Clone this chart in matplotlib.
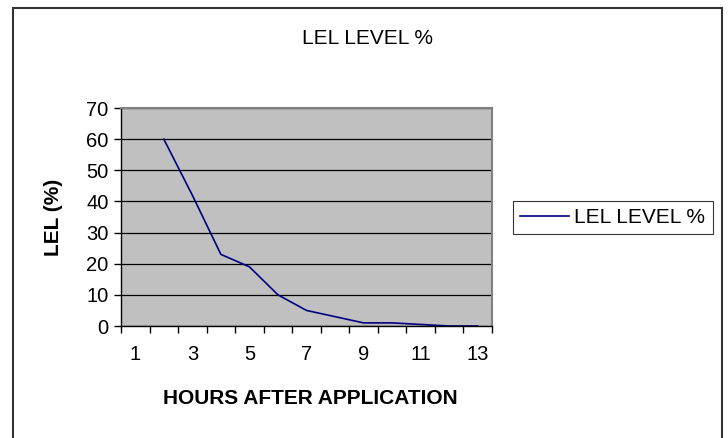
import numpy as np
import matplotlib
matplotlib.use('Agg')
from matplotlib import pyplot as plt
from matplotlib.patches import Rectangle

# data
hours = [1, 2, 3, 4, 5, 6, 7, 8, 9, 10, 11, 12, 13]
lel_level = [np.nan, 60, 42, 23, 19, 10, 5, 3, 1, 1, 0.5, 0, 0]
x_labels = ['1', '3', '5', '7', '9', '11', '13']
y_ticks = [0, 10, 20, 30, 40, 50, 60, 70]

plt.rcParams['font.family'] = ['Liberation Sans', 'DejaVu Sans']

W, H = 728, 438
fig = plt.figure(figsize=(W / 100, H / 100), dpi=100)
ax = fig.add_axes([121 / W, 1 - 326 / H, (492 - 121) / W, (326 - 108) / H])

# plot area
ax.set_facecolor('#C0C0C0')
ax.plot(hours, lel_level, color='#000080', linewidth=1.2, label='LEL LEVEL %')

ax.set_xlim(0.5, 13.5)
ax.set_ylim(0, 70)
ax.set_yticks(y_ticks)
ax.yaxis.grid(True, color='black', linewidth=0.9)
ax.set_axisbelow(True)

# category boundaries as ticks, labels on odd hours
ax.set_xticks(np.arange(0.5, 14.0, 1.0))
ax.set_xticklabels([])
ax.set_xticks(hours[::2], minor=True)
ax.set_xticklabels(x_labels, minor=True)
ax.tick_params(axis='x', which='major', direction='out', length=5, width=1, color='black')
ax.tick_params(axis='x', which='minor', length=0, pad=14, labelsize=14.5)
ax.tick_params(axis='y', direction='out', length=5, width=1, pad=4, labelsize=14.5)

for side in ['top', 'right']:
    ax.spines[side].set_color('#808080')
    ax.spines[side].set_linewidth(1.5)
for side in ['left', 'bottom']:
    ax.spines[side].set_color('black')
    ax.spines[side].set_linewidth(1)

# titles and labels
fig.text(367 / W, 1 - 38 / H, 'LEL LEVEL %', ha='center', va='center', fontsize=15)
fig.text(310 / W, 1 - 398 / H, 'HOURS AFTER APPLICATION', ha='center', va='center',
         fontsize=15, fontweight='bold')
fig.text(53 / W, 1 - 217 / H, 'LEL (%)', ha='center', va='center', rotation=90,
         fontsize=15, fontweight='bold')

# legend
leg = ax.legend(loc='center left', bbox_to_anchor=(513 / W, 1 - 217.5 / H),
                bbox_transform=fig.transFigure, fontsize=15, frameon=True,
                fancybox=False, handlelength=2.35, handletextpad=0.25,
                borderpad=0.35, borderaxespad=0)
leg.get_frame().set_edgecolor('black')
leg.get_frame().set_linewidth(0.8)

# chart border
fig.patches.append(Rectangle((13 / W, -2 / H), (722 - 13) / W, (430 + 2) / H,
                             transform=fig.transFigure, fill=False,
                             edgecolor='#333333', linewidth=1.5))

fig.savefig('out.png', dpi=100)
